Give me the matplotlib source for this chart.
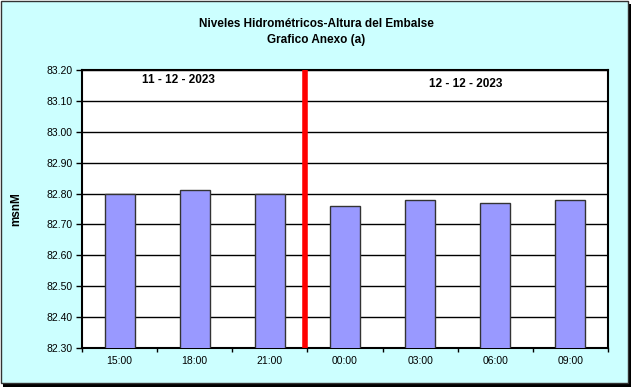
import matplotlib
matplotlib.use('Agg')
import matplotlib.pyplot as plt
from matplotlib.patches import Rectangle
import numpy as np

# Hourly reservoir levels (msnM)
horas = ['15:00', '18:00', '21:00', '00:00', '03:00', '06:00', '09:00']
niveles = [82.80, 82.81, 82.80, 82.76, 82.78, 82.77, 82.78]
yticks = [82.30, 82.40, 82.50, 82.60, 82.70, 82.80, 82.90, 83.00, 83.10, 83.20]
fechas = ['11 - 12 - 2023', '12 - 12 - 2023']
corte_dia = 2.47  # position of the day-change marker

plt.rcParams['font.family'] = ['Liberation Sans', 'DejaVu Sans']

fig = plt.figure(figsize=(6.33, 3.87), dpi=100)
fig.patch.set_facecolor('white')

# framed background with a drop shadow, like the original spreadsheet chart
W, H = 633, 387
fig.patches.append(Rectangle((3 / W, 0), 628 / W, 383 / H, transform=fig.transFigure,
                             facecolor='black', edgecolor='none', zorder=-3))
fig.patches.append(Rectangle((0.5 / W, 4 / H), 627 / W, 382.5 / H, transform=fig.transFigure,
                             facecolor='#CCFFFF', edgecolor='#333333', linewidth=1, zorder=-2))

ax = fig.add_axes([82 / W, 1 - 348 / H, (608 - 82) / W, (348 - 70) / H])
ax.set_facecolor('white')

x = np.arange(len(horas))
ax.bar(x, niveles, width=0.4, color='#9999FF', edgecolor='#333333', linewidth=1, zorder=3)
ax.axvline(corte_dia, color='#FF0000', linewidth=4, zorder=4)

ax.set_ylim(82.30, 83.20)
ax.set_xlim(-0.5, len(horas) - 0.5)
ax.set_yticks(yticks)
ax.set_yticklabels(['%.2f' % v for v in yticks], fontsize=7.5)
ax.set_xticks(x)
ax.set_xticklabels(horas, fontsize=7.5)
ax.tick_params(axis='x', length=0, pad=6)
ax.set_xticks(np.arange(-0.5, len(horas), 1), minor=True)
ax.tick_params(axis='x', which='minor', length=3, width=1, direction='out')
ax.tick_params(axis='y', length=4, width=1, direction='out', pad=3)
ax.yaxis.grid(True, color='black', linewidth=1, zorder=0)
ax.set_axisbelow(True)
for s in ax.spines.values():
    s.set_linewidth(1.5)
    s.set_color('black')

ax.set_ylabel('msnM', fontsize=8.5, fontweight='bold', labelpad=17)

ax.text(0.78, 83.168, fechas[0], ha='center', va='center', fontsize=8.5, fontweight='bold')
ax.text(4.6, 83.155, fechas[1], ha='center', va='center', fontsize=8.5, fontweight='bold')

fig.text(0.5, 1 - 24 / H, 'Niveles Hidrométricos-Altura del Embalse', ha='center', va='center',
         fontsize=8.5, fontweight='bold')
fig.text(0.5, 1 - 40 / H, 'Grafico Anexo (a)', ha='center', va='center',
         fontsize=8.5, fontweight='bold')

fig.savefig('out.png', dpi=100, facecolor=fig.get_facecolor())
